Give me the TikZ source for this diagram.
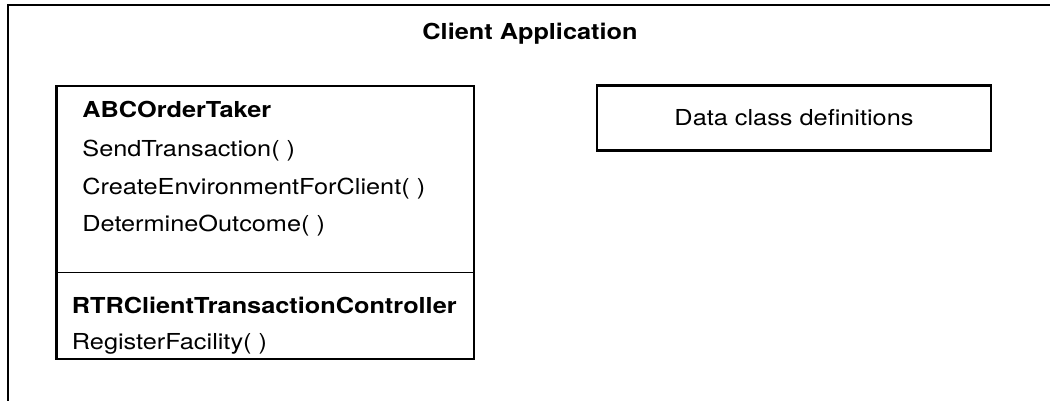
\documentclass[tikz,border=0pt]{standalone}
\usepackage{fontspec}
\setmainfont{TeX Gyre Heros}[FakeStretch=1.15]
\begin{document}
\begin{tikzpicture}[x=0.5pt,y=-0.5pt]
\tikzstyle{every node}+=[inner sep=0pt, font=\fontsize{11}{13}\selectfont]
\tikzstyle{box}=[draw, line width=1.35pt]
\tikzstyle{member}=[anchor=base west]
\tikzstyle{classname}=[anchor=base west, font=\fontsize{11}{13}\selectfont\bfseries]
\useasboundingbox (0,0) rectangle (1050,401);
% application frame (cut off at right and bottom)
\draw [line width=1pt] (8,401) -- (8,5) -- (1050,5);
\node (title) [anchor=base, font=\fontsize{11}{13}\selectfont\bfseries] at (530,40) {Client Application};
% class box
\node (taker) [box, minimum width=208.75pt, minimum height=136.5pt] at (265.25,222.5) {};
\draw [line width=0.6pt] (taker.west |- 0,272.5) -- (taker.east |- 0,272.5);
\node (takername) [classname] at (82,117.7) {ABCOrderTaker};
\node (send) [member] at (82,156.7) {SendTransaction( )};
\node (create) [member] at (82,194) {CreateEnvironmentForClient( )};
\node (determine) [member] at (82,231) {DetermineOutcome( )};
\node (controller) [classname] at (71.5,313) {RTRClientTransactionController};
\node (register) [member] at (71.5,349.5) {RegisterFacility( )};
% data box
\node (datadefs) [box, minimum width=197pt, minimum height=32.5pt] at (794,118) {Data class definitions};
\end{tikzpicture}
\end{document}
